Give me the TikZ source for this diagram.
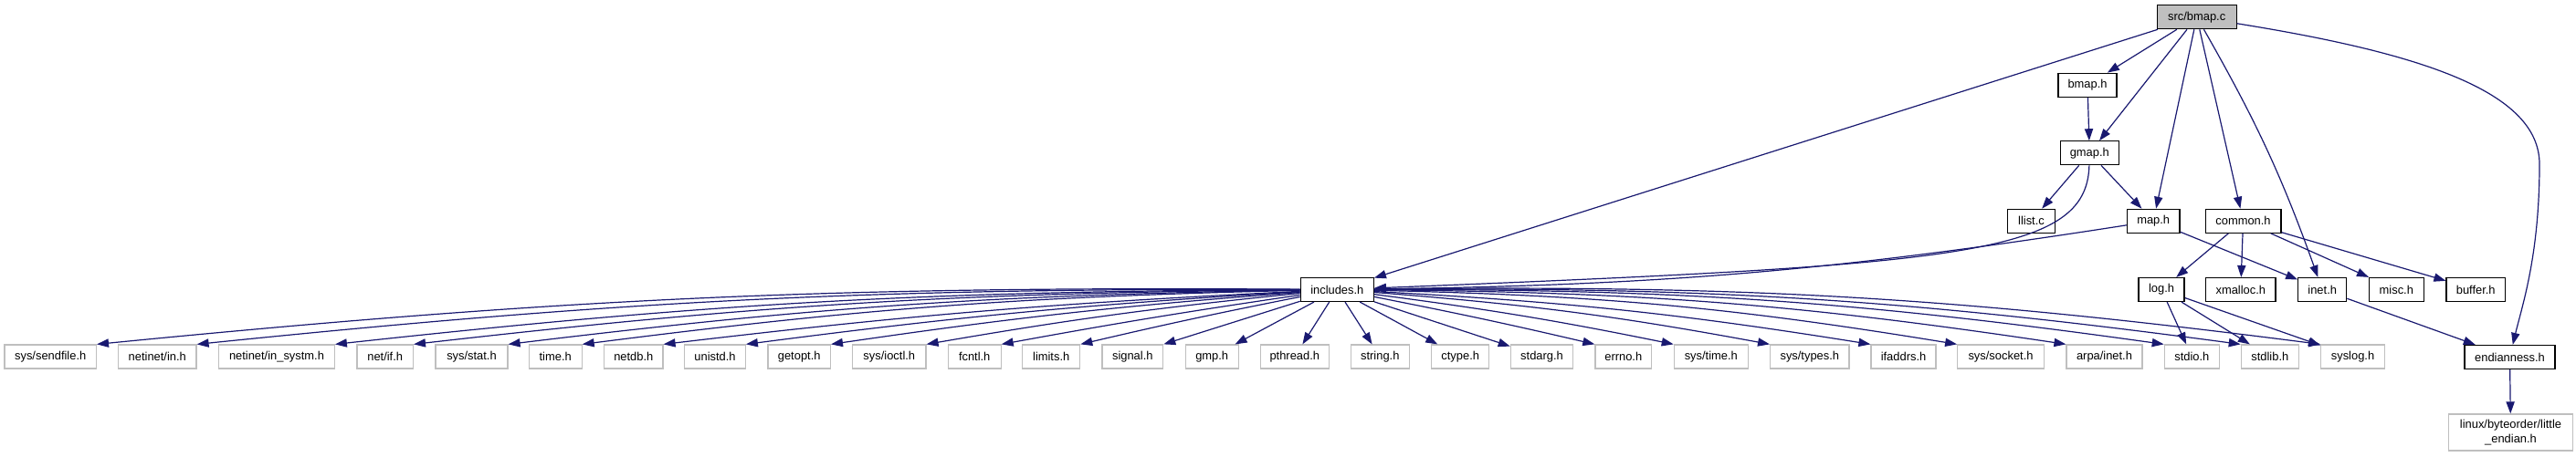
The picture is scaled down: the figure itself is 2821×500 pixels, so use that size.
\documentclass[tikz,border=0pt]{standalone}
\usepackage{fontspec}
\newfontfamily\dxfont{Liberation Sans}
\usetikzlibrary{arrows.meta}
\definecolor{edgeblue}{HTML}{191970}
\definecolor{grayline}{HTML}{BFBFBF}
\definecolor{rootfill}{HTML}{BFBFBF}
\begin{document}
\begin{tikzpicture}[x=0.5pt,y=0.5pt,
  every node/.style={font=\dxfont\fontsize{6.45}{7.6}\selectfont},
  base/.style={rectangle, inner sep=0pt, minimum height=13pt, line width=0.6pt, text=black},
  intbox/.style={base, draw=black},
  extbox/.style={base, draw=grayline},
  rootbox/.style={base, draw=black, fill=rootfill},
  edge/.style={draw=edgeblue, line width=0.6pt, -{Triangle[length=6.5pt,width=4.6pt]}}]
\useasboundingbox (0,0) rectangle (2821,500);
% internal nodes
\node[rootbox, minimum width=43.4pt] (root) at (2405.7,481.3) {src/bmap.c};
\node[intbox, minimum width=32pt] (bmaph) at (2286,406.8) {bmap.h};
\node[intbox, minimum width=32pt] (gmaph) at (2288.3,332.2) {gmap.h};
\node[intbox, minimum width=26.2pt] (llist) at (2224.5,257.7) {llist.c};
\node[intbox, minimum width=28.8pt] (maph) at (2358.2,257.7) {map.h};
\node[intbox, minimum width=41.4pt] (common) at (2456.5,257.7) {common.h};
\node[intbox, minimum width=40pt] (inc) at (1464.3,182.5) {includes.h};
\node[intbox, minimum width=25pt] (log) at (2367,182.5) {log.h};
\node[intbox, minimum width=38.2pt] (xmalloc) at (2453.8,182.5) {xmalloc.h};
\node[intbox, minimum width=26.5pt] (inet) at (2543.2,182.5) {inet.h};
\node[intbox, minimum width=30pt] (misc) at (2624.3,182.5) {misc.h};
\node[intbox, minimum width=32.2pt] (buffer) at (2711.2,182.5) {buffer.h};
\node[intbox, minimum width=49.5pt] (endian) at (2748.5,108.5) {endianness.h};
\node[extbox, minimum width=67.8pt, minimum height=20pt, align=center] (little) at (2749.5,26) {linux/byteorder/little\\\_endian.h};
% external nodes
\node[extbox, minimum width=50.2pt] (sendfile) at (55.2,109) {sys/sendfile.h};
\node[extbox, minimum width=42.7pt] (netin) at (172.3,109) {netinet/in.h};
\node[extbox, minimum width=63.3pt] (insystm) at (303,109) {netinet/in\_systm.h};
\node[extbox, minimum width=30.7pt] (netif) at (421.7,109) {net/if.h};
\node[extbox, minimum width=39.5pt] (sysstat) at (516.5,109) {sys/stat.h};
\node[extbox, minimum width=28.9pt] (timeh) at (608.2,109) {time.h};
\node[extbox, minimum width=32.2pt] (netdb) at (693.8,109) {netdb.h};
\node[extbox, minimum width=33.3pt] (unistd) at (783,109) {unistd.h};
\node[extbox, minimum width=34.2pt] (getopt) at (875.2,109) {getopt.h};
\node[extbox, minimum width=40.2pt] (ioctl) at (973.8,109) {sys/ioctl.h};
\node[extbox, minimum width=28.9pt] (fcntl) at (1067.2,109) {fcntl.h};
\node[extbox, minimum width=31.5pt] (limits) at (1151.2,109) {limits.h};
\node[extbox, minimum width=33.4pt] (signal) at (1240.3,109) {signal.h};
\node[extbox, minimum width=28.9pt] (gmp) at (1327.2,109) {gmp.h};
\node[extbox, minimum width=37.5pt] (pthread) at (1417.8,109) {pthread.h};
\node[extbox, minimum width=32pt] (string) at (1511.3,109) {string.h};
\node[extbox, minimum width=31.5pt] (ctype) at (1599.2,109) {ctype.h};
\node[extbox, minimum width=34.2pt] (stdarg) at (1688.5,109) {stdarg.h};
\node[extbox, minimum width=30.9pt] (errno) at (1777.8,109) {errno.h};
\node[extbox, minimum width=40.5pt] (systime) at (1873.8,109) {sys/time.h};
\node[extbox, minimum width=43.2pt] (systypes) at (1981.8,109) {sys/types.h};
\node[extbox, minimum width=35.5pt] (ifaddrs) at (2084.5,109) {ifaddrs.h};
\node[extbox, minimum width=47.3pt] (syssocket) at (2191,109) {sys/socket.h};
\node[extbox, minimum width=41.5pt] (arpainet) at (2304.5,109) {arpa/inet.h};
\node[extbox, minimum width=30pt] (stdio) at (2400.3,109) {stdio.h};
\node[extbox, minimum width=31.5pt] (stdlib) at (2485.8,109) {stdlib.h};
\node[extbox, minimum width=34.8pt] (syslog) at (2576.5,109) {syslog.h};
\coordinate (ebend) at (2781,320);
% edges from root
\draw[edge] (root) -- (inc);
\draw[edge] (root) -- (bmaph);
\draw[edge] (root) -- (gmaph);
\draw[edge] (root) -- (maph);
\draw[edge] (root) -- (common);
\draw[edge] (root) to[bend left=5] (inet);
\draw[edge] (root) .. controls (2650,442) and (2781,400) .. (ebend) .. controls (2781,220) and (2762,165) .. (endian);
% other internal edges
\draw[edge] (bmaph) -- (gmaph);
\draw[edge] (gmaph) -- (llist);
\draw[edge] (gmaph) -- (maph);
\draw[edge] (gmaph) .. controls (2285,220) and (2150,210) .. (inc);
\draw[edge] (maph) to[bend left=4] (inc);
\draw[edge] (maph) -- (inet);
\draw[edge] (common) -- (log);
\draw[edge] (common) -- (xmalloc);
\draw[edge] (common) -- (misc);
\draw[edge] (common) -- (buffer);
\draw[edge] (log) -- (stdio);
\draw[edge] (log) -- (stdlib);
\draw[edge] (log) -- (syslog);
\draw[edge] (inet) -- (endian);
\draw[edge] (endian) -- (little);
% includes.h fan-out
\draw[edge] (inc) to[bend right=3] (sendfile.north east);
\draw[edge] (inc) to[bend right=3] (netin.north east);
\draw[edge] (inc) to[bend right=3] (insystm.north east);
\draw[edge] (inc) to[bend right=3] (netif.north east);
\draw[edge] (inc) to[bend right=3] (sysstat.north east);
\draw[edge] (inc) to[bend right=3] (timeh.north east);
\draw[edge] (inc) to[bend right=2] (netdb.north east);
\draw[edge] (inc) to[bend right=2] (unistd.north east);
\draw[edge] (inc) to[bend right=2] (getopt.north east);
\draw[edge] (inc) to[bend right=2] (ioctl.north east);
\draw[edge] (inc) to[bend right=1] (fcntl.north east);
\draw[edge] (inc) to[bend right=1] (limits.north east);
\draw[edge] (inc) -- (signal.north east);
\draw[edge] (inc) -- (gmp);
\draw[edge] (inc) -- (pthread);
\draw[edge] (inc) -- (string);
\draw[edge] (inc) -- (ctype);
\draw[edge] (inc) -- (stdarg);
\draw[edge] (inc) to[bend left=1] (errno.north west);
\draw[edge] (inc) to[bend left=2] (systime.north west);
\draw[edge] (inc) to[bend left=3] (systypes.north west);
\draw[edge] (inc) to[bend left=3] (ifaddrs.north west);
\draw[edge] (inc) to[bend left=4] (syssocket.north west);
\draw[edge] (inc) to[bend left=4] (arpainet.north west);
\draw[edge] (inc) to[bend left=4] (stdio.north west);
\draw[edge] (inc) to[bend left=4] (stdlib.north west);
\draw[edge] (inc) to[bend left=4] (syslog.north west);
\end{tikzpicture}
\end{document}
